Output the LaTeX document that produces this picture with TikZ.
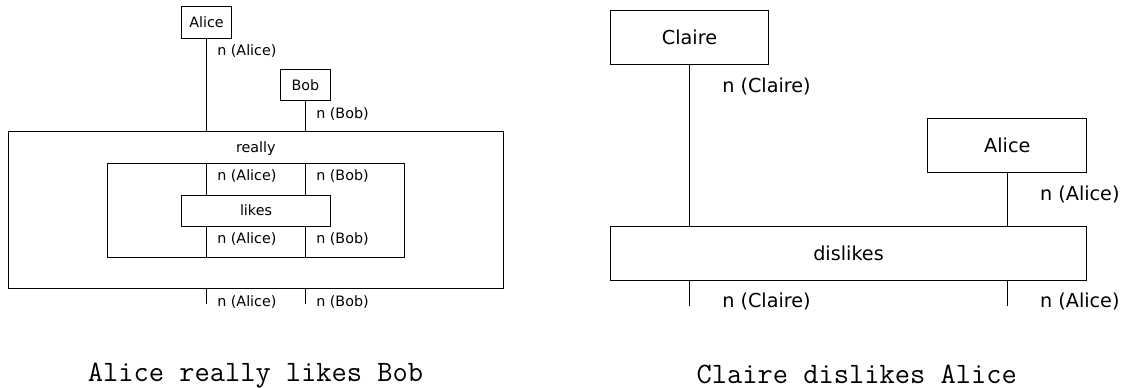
\documentclass[tikz,border=0pt]{standalone}
\usepackage{fontspec}
\setmainfont{DejaVu Sans}
\usepackage{tikz}
\usetikzlibrary{positioning, calc}

\begin{document}
\begin{tikzpicture}[
      x=0.5pt, y=-0.5pt,
      wordbox/.style={draw, line width=0.5pt, inner sep=0pt},
      smallfont/.style={font=\fontsize{7.15}{8.5}\selectfont},
      bigfont/.style={font=\fontsize{9.6}{11.5}\selectfont},
      wire/.style={line width=0.5pt},
      wirelabel/.style={anchor=base west, inner sep=0pt},
      caption/.style={anchor=base, font=\ttfamily\fontsize{14.8}{17}\selectfont}
    ]
      \useasboundingbox (0,0) rectangle (1143,387);

      % Left diagram - the two words on top
      \node[wordbox, smallfont, minimum width=24.8pt, minimum height=15.8pt] (alice) at (206.5,22.5) {Alice};
      \node[wordbox, smallfont, minimum width=25pt, minimum height=15.7pt] (bob) at (305.5,85) {Bob};

      % Nested boxes - really around likes
      \node[wordbox, minimum width=247.5pt, minimum height=78.3pt] (really) at (255.8,210) {};
      \node[smallfont, anchor=base] (really_text) at (255.8,152) {really};
      \node[wordbox, minimum width=148.5pt, minimum height=46.85pt] (inner) at (255.8,210.2) {};
      \node[wordbox, smallfont, minimum width=74.3pt, minimum height=15.5pt] (likes) at (256,210.5) {likes};

      % Wires from the words into really
      \draw[wire] (alice.south) -- (alice.south |- really.north);
      \draw[wire] (bob.south) -- (bob.south |- really.north);
      \node[wirelabel, smallfont] (alice_in) at ([xshift=5.2pt]alice.south |- 0,55.2) {n (Alice)};
      \node[wirelabel, smallfont] (bob_in) at ([xshift=5.2pt]bob.south |- 0,118.2) {n (Bob)};

      % Wires through the inner box and out of really
      \foreach \w/\t in {alice/Alice, bob/Bob} {
        \coordinate (\w_out) at (\w.south |- 0,304);
        \draw[wire] (\w.south |- inner.north) -- (\w.south |- likes.north);
        \draw[wire] (\w.south |- likes.south) -- (\w.south |- inner.south);
        \draw[wire] (\w.south |- really.south) -- (\w_out);
        \node[wirelabel, smallfont] at ([xshift=5.2pt]\w.south |- 0,180.9) {n (\t)};
        \node[wirelabel, smallfont] at ([xshift=5.2pt]\w.south |- 0,243.9) {n (\t)};
        \node[wirelabel, smallfont] at ([xshift=5.2pt]\w.south |- 0,306.2) {n (\t)};
      }

      % Right diagram
      \node[wordbox, bigfont, minimum width=79.35pt, minimum height=26.8pt] (claire) at (689.5,37.5) {Claire};
      \node[wordbox, bigfont, minimum width=79.35pt, minimum height=27pt] (alice_r) at (1007.3,145.7) {Alice};
      \node[wordbox, bigfont, minimum width=238.2pt, minimum height=26.8pt] (dislikes) at (848.5,253.5) {dislikes};

      \draw[wire] (claire.south) -- (claire.south |- dislikes.north);
      \draw[wire] (alice_r.south) -- (alice_r.south |- dislikes.north);
      \node[wirelabel, bigfont] (claire_in) at ([xshift=16.2pt]claire.south |- 0,92) {n (Claire)};
      \node[wirelabel, bigfont] (alice_r_in) at ([xshift=16.2pt]alice_r.south |- 0,200.3) {n (Alice)};

      % Outputs of dislikes
      \foreach \w/\t in {claire/Claire, alice_r/Alice} {
        \coordinate (\w_out) at (\w.south |- 0,306);
        \draw[wire] (\w.south |- dislikes.south) -- (\w_out);
        \node[wirelabel, bigfont] at ([xshift=16.2pt]\w.south |- 0,307) {n (\t)};
      }

      % Captions
      \node[caption] (left_caption) at (255.5,381) {Alice really likes Bob};
      \node[caption] (right_caption) at (856.7,383.5) {Claire dislikes Alice};
    \end{tikzpicture}
\end{document}
